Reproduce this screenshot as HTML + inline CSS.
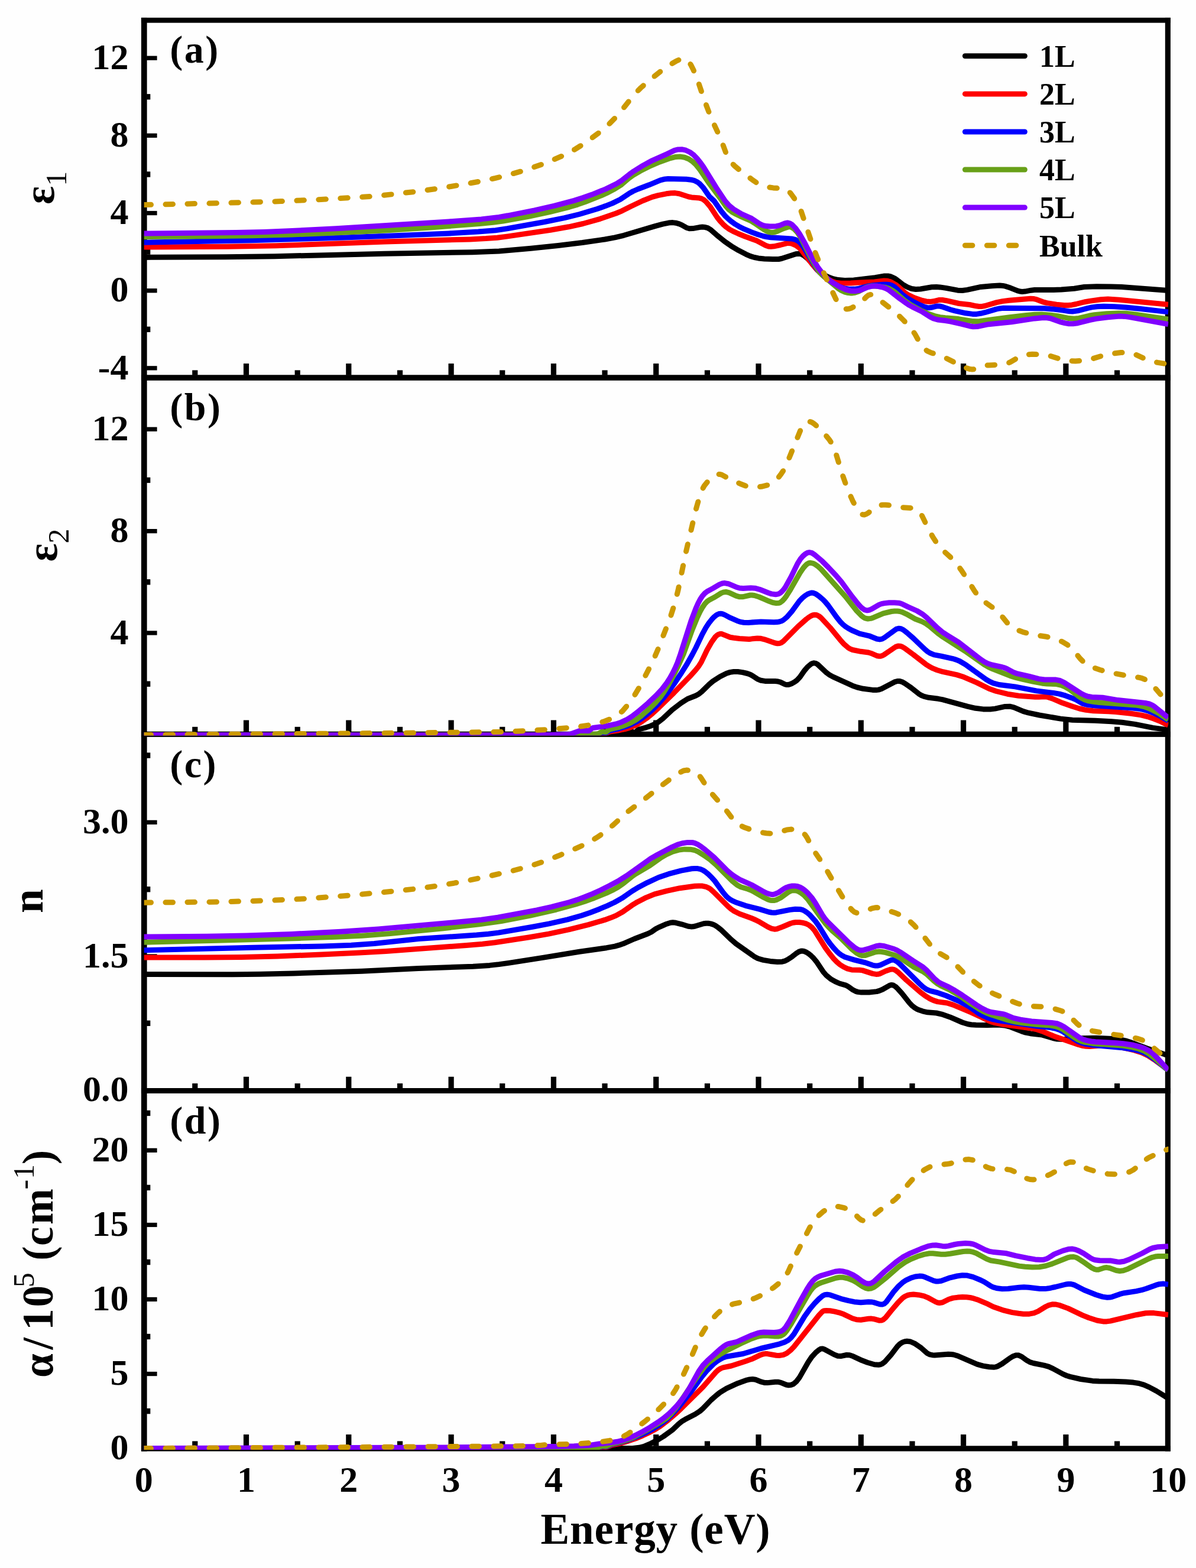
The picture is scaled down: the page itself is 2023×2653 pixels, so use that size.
<!DOCTYPE html><html><head><meta charset="utf-8"><style>html,body{margin:0;padding:0;background:#fff;}svg{display:block}</style></head><body>
<svg width="2023" height="2653" viewBox="0 0 2023 2653">
<rect width="100%" height="100%" fill="#fefefe"/>
<g fill="#000">
<rect x="238.9" y="29.9" width="9.7" height="2425.6"/>
<rect x="1970.8" y="29.9" width="9.1" height="2425.6"/>
<rect x="238.9" y="29.9" width="1741.0" height="8.7"/>
<rect x="238.9" y="634.3" width="1741.0" height="9.5"/>
<rect x="238.9" y="1237.7" width="1741.0" height="9.2"/>
<rect x="238.9" y="1841.0" width="1741.0" height="9.0"/>
<rect x="238.9" y="2446.3" width="1741.0" height="9.2"/>
<rect x="248.1" y="619.2" width="17.5" height="7.3"/>
<rect x="248.1" y="488.1" width="17.5" height="7.3"/>
<rect x="248.1" y="356.9" width="17.5" height="7.3"/>
<rect x="248.1" y="225.7" width="17.5" height="7.3"/>
<rect x="248.1" y="94.6" width="17.5" height="7.3"/>
<rect x="248.1" y="552.6" width="6.2" height="9.4"/>
<rect x="248.1" y="421.4" width="6.2" height="9.4"/>
<rect x="248.1" y="290.3" width="6.2" height="9.4"/>
<rect x="248.1" y="159.1" width="6.2" height="9.4"/>
<rect x="411.9" y="615.1" width="9.2" height="19.7"/>
<rect x="585.2" y="615.1" width="9.2" height="19.7"/>
<rect x="758.5" y="615.1" width="9.2" height="19.7"/>
<rect x="931.8" y="615.1" width="9.2" height="19.7"/>
<rect x="1105.1" y="615.1" width="9.2" height="19.7"/>
<rect x="1278.4" y="615.1" width="9.2" height="19.7"/>
<rect x="1451.7" y="615.1" width="9.2" height="19.7"/>
<rect x="1625.0" y="615.1" width="9.2" height="19.7"/>
<rect x="1798.3" y="615.1" width="9.2" height="19.7"/>
<rect x="325.2" y="626.4" width="9.2" height="8.4"/>
<rect x="498.6" y="626.4" width="9.2" height="8.4"/>
<rect x="671.9" y="626.4" width="9.2" height="8.4"/>
<rect x="845.1" y="626.4" width="9.2" height="8.4"/>
<rect x="1018.4" y="626.4" width="9.2" height="8.4"/>
<rect x="1191.8" y="626.4" width="9.2" height="8.4"/>
<rect x="1365.1" y="626.4" width="9.2" height="8.4"/>
<rect x="1538.4" y="626.4" width="9.2" height="8.4"/>
<rect x="1711.7" y="626.4" width="9.2" height="8.4"/>
<rect x="1885.0" y="626.4" width="9.2" height="8.4"/>
<rect x="248.1" y="1067.3" width="17.5" height="7.3"/>
<rect x="248.1" y="895.0" width="17.5" height="7.3"/>
<rect x="248.1" y="722.6" width="17.5" height="7.3"/>
<rect x="248.1" y="1152.5" width="6.2" height="9.4"/>
<rect x="248.1" y="980.1" width="6.2" height="9.4"/>
<rect x="248.1" y="807.7" width="6.2" height="9.4"/>
<rect x="411.9" y="1218.5" width="9.2" height="19.7"/>
<rect x="585.2" y="1218.5" width="9.2" height="19.7"/>
<rect x="758.5" y="1218.5" width="9.2" height="19.7"/>
<rect x="931.8" y="1218.5" width="9.2" height="19.7"/>
<rect x="1105.1" y="1218.5" width="9.2" height="19.7"/>
<rect x="1278.4" y="1218.5" width="9.2" height="19.7"/>
<rect x="1451.7" y="1218.5" width="9.2" height="19.7"/>
<rect x="1625.0" y="1218.5" width="9.2" height="19.7"/>
<rect x="1798.3" y="1218.5" width="9.2" height="19.7"/>
<rect x="325.2" y="1229.8" width="9.2" height="8.4"/>
<rect x="498.6" y="1229.8" width="9.2" height="8.4"/>
<rect x="671.9" y="1229.8" width="9.2" height="8.4"/>
<rect x="845.1" y="1229.8" width="9.2" height="8.4"/>
<rect x="1018.4" y="1229.8" width="9.2" height="8.4"/>
<rect x="1191.8" y="1229.8" width="9.2" height="8.4"/>
<rect x="1365.1" y="1229.8" width="9.2" height="8.4"/>
<rect x="1538.4" y="1229.8" width="9.2" height="8.4"/>
<rect x="1711.7" y="1229.8" width="9.2" height="8.4"/>
<rect x="1885.0" y="1229.8" width="9.2" height="8.4"/>
<rect x="248.1" y="1614.3" width="17.5" height="7.3"/>
<rect x="248.1" y="1387.7" width="17.5" height="7.3"/>
<rect x="248.1" y="1726.6" width="6.2" height="9.4"/>
<rect x="248.1" y="1500.0" width="6.2" height="9.4"/>
<rect x="248.1" y="1273.4" width="6.2" height="9.4"/>
<rect x="411.9" y="1821.8" width="9.2" height="19.7"/>
<rect x="585.2" y="1821.8" width="9.2" height="19.7"/>
<rect x="758.5" y="1821.8" width="9.2" height="19.7"/>
<rect x="931.8" y="1821.8" width="9.2" height="19.7"/>
<rect x="1105.1" y="1821.8" width="9.2" height="19.7"/>
<rect x="1278.4" y="1821.8" width="9.2" height="19.7"/>
<rect x="1451.7" y="1821.8" width="9.2" height="19.7"/>
<rect x="1625.0" y="1821.8" width="9.2" height="19.7"/>
<rect x="1798.3" y="1821.8" width="9.2" height="19.7"/>
<rect x="325.2" y="1833.1" width="9.2" height="8.4"/>
<rect x="498.6" y="1833.1" width="9.2" height="8.4"/>
<rect x="671.9" y="1833.1" width="9.2" height="8.4"/>
<rect x="845.1" y="1833.1" width="9.2" height="8.4"/>
<rect x="1018.4" y="1833.1" width="9.2" height="8.4"/>
<rect x="1191.8" y="1833.1" width="9.2" height="8.4"/>
<rect x="1365.1" y="1833.1" width="9.2" height="8.4"/>
<rect x="1538.4" y="1833.1" width="9.2" height="8.4"/>
<rect x="1711.7" y="1833.1" width="9.2" height="8.4"/>
<rect x="1885.0" y="1833.1" width="9.2" height="8.4"/>
<rect x="248.1" y="2320.9" width="17.5" height="7.3"/>
<rect x="248.1" y="2194.8" width="17.5" height="7.3"/>
<rect x="248.1" y="2068.8" width="17.5" height="7.3"/>
<rect x="248.1" y="1942.7" width="17.5" height="7.3"/>
<rect x="248.1" y="2382.9" width="6.2" height="9.4"/>
<rect x="248.1" y="2256.8" width="6.2" height="9.4"/>
<rect x="248.1" y="2130.8" width="6.2" height="9.4"/>
<rect x="248.1" y="2004.7" width="6.2" height="9.4"/>
<rect x="248.1" y="1878.7" width="6.2" height="9.4"/>
<rect x="411.9" y="2427.1" width="9.2" height="19.7"/>
<rect x="585.2" y="2427.1" width="9.2" height="19.7"/>
<rect x="758.5" y="2427.1" width="9.2" height="19.7"/>
<rect x="931.8" y="2427.1" width="9.2" height="19.7"/>
<rect x="1105.1" y="2427.1" width="9.2" height="19.7"/>
<rect x="1278.4" y="2427.1" width="9.2" height="19.7"/>
<rect x="1451.7" y="2427.1" width="9.2" height="19.7"/>
<rect x="1625.0" y="2427.1" width="9.2" height="19.7"/>
<rect x="1798.3" y="2427.1" width="9.2" height="19.7"/>
<rect x="325.2" y="2438.4" width="9.2" height="8.4"/>
<rect x="498.6" y="2438.4" width="9.2" height="8.4"/>
<rect x="671.9" y="2438.4" width="9.2" height="8.4"/>
<rect x="845.1" y="2438.4" width="9.2" height="8.4"/>
<rect x="1018.4" y="2438.4" width="9.2" height="8.4"/>
<rect x="1191.8" y="2438.4" width="9.2" height="8.4"/>
<rect x="1365.1" y="2438.4" width="9.2" height="8.4"/>
<rect x="1538.4" y="2438.4" width="9.2" height="8.4"/>
<rect x="1711.7" y="2438.4" width="9.2" height="8.4"/>
<rect x="1885.0" y="2438.4" width="9.2" height="8.4"/>
</g>
<clipPath id="clipa"><rect x="243.7" y="28.200000000000003" width="1732.6" height="612.8"/></clipPath>
<clipPath id="clipb"><rect x="243.7" y="633.0" width="1732.6" height="611.5"/></clipPath>
<clipPath id="clipc"><rect x="243.7" y="1236.5" width="1732.6" height="611.0"/></clipPath>
<clipPath id="clipd"><rect x="243.7" y="1839.5" width="1732.6" height="613.5"/></clipPath>
<g clip-path="url(#clipa)" fill="none" stroke-linejoin="round">
<path d="M243.0,435.4 L381.0,434.7 L464.0,433.7 L651.0,429.3 L799.0,426.7 L844.0,425.0 L898.0,420.2 L944.0,415.4 L985.0,410.5 L1023.0,405.0 L1040.0,401.9 L1055.0,398.3 L1108.0,382.6 L1121.0,379.1 L1131.0,377.1 L1138.0,376.6 L1143.0,377.2 L1149.0,378.9 L1153.0,380.6 L1161.0,385.2 L1166.0,386.7 L1172.0,386.6 L1183.0,384.6 L1188.0,384.1 L1193.0,384.6 L1197.0,385.7 L1202.0,388.7 L1212.0,397.4 L1226.0,408.7 L1239.0,417.7 L1249.0,423.6 L1262.0,430.3 L1269.0,433.4 L1276.0,435.5 L1283.0,436.9 L1293.0,437.9 L1307.0,438.5 L1317.0,438.5 L1322.0,437.5 L1346.0,429.8 L1351.0,429.2 L1355.0,429.8 L1360.0,432.5 L1366.0,437.4 L1373.0,444.9 L1382.0,456.3 L1388.0,461.5 L1395.0,465.8 L1403.0,469.6 L1410.0,472.0 L1418.0,473.6 L1429.0,474.4 L1444.0,473.9 L1480.0,469.6 L1496.0,467.0 L1502.0,467.0 L1507.0,468.0 L1513.0,470.8 L1517.0,473.5 L1527.0,481.3 L1535.0,485.9 L1542.0,488.5 L1549.0,489.5 L1557.0,489.0 L1576.0,485.8 L1584.0,485.4 L1590.0,485.9 L1600.0,487.4 L1620.0,491.2 L1628.0,491.5 L1636.0,490.4 L1659.0,485.4 L1678.0,483.7 L1691.0,483.1 L1696.0,483.4 L1701.0,484.4 L1709.0,487.1 L1721.0,491.9 L1725.0,493.0 L1729.0,493.4 L1734.0,493.1 L1744.0,491.2 L1750.0,490.5 L1782.0,490.5 L1795.0,490.0 L1817.0,488.3 L1834.0,485.5 L1855.0,484.8 L1879.0,484.9 L1897.0,485.5 L1976.0,491.4" stroke="#000000" stroke-width="9.0" stroke-linecap="butt"/>
<path d="M243.0,418.0 L384.0,417.2 L467.0,415.7 L651.0,409.0 L795.0,404.9 L822.0,403.6 L841.0,402.2 L859.0,399.9 L931.0,389.3 L962.0,383.8 L986.0,378.5 L1015.0,370.3 L1042.0,361.0 L1052.0,356.8 L1067.0,349.2 L1087.0,339.8 L1103.0,333.4 L1113.0,330.6 L1127.0,327.8 L1135.0,326.7 L1142.0,326.6 L1149.0,327.8 L1165.0,333.0 L1170.0,333.9 L1183.0,335.1 L1187.0,336.2 L1190.0,337.7 L1194.0,341.1 L1201.0,349.3 L1213.0,367.6 L1218.0,373.9 L1223.0,379.3 L1228.0,383.8 L1234.0,388.1 L1240.0,391.4 L1249.0,395.5 L1260.0,400.0 L1280.0,407.3 L1295.0,415.2 L1300.0,416.9 L1304.0,417.3 L1309.0,416.8 L1320.0,414.5 L1330.0,411.8 L1333.0,411.3 L1339.0,412.0 L1346.0,415.0 L1351.0,418.5 L1355.0,422.4 L1375.0,448.4 L1381.0,455.3 L1386.0,460.2 L1395.0,468.0 L1402.0,473.1 L1408.0,476.3 L1414.0,478.3 L1422.0,479.2 L1439.0,479.1 L1455.0,478.0 L1479.0,477.0 L1495.0,475.0 L1501.0,475.2 L1507.0,477.1 L1515.0,481.6 L1520.0,485.5 L1530.0,494.8 L1536.0,498.9 L1547.0,504.0 L1560.0,508.5 L1567.0,510.0 L1574.0,510.4 L1579.0,509.8 L1588.0,507.6 L1594.0,507.5 L1601.0,508.7 L1622.0,513.5 L1640.0,515.5 L1651.0,517.8 L1656.0,518.5 L1661.0,518.4 L1666.0,517.5 L1686.0,511.6 L1696.0,509.6 L1707.0,508.3 L1743.0,505.2 L1748.0,505.5 L1752.0,506.3 L1764.0,510.8 L1771.0,512.6 L1787.0,515.2 L1800.0,516.4 L1807.0,516.4 L1813.0,515.9 L1820.0,514.5 L1834.0,511.0 L1843.0,509.4 L1862.0,506.7 L1874.0,505.9 L1893.0,507.3 L1976.0,515.3" stroke="#ff0000" stroke-width="9.0" stroke-linecap="butt"/>
<path d="M243.0,410.3 L425.0,406.8 L568.0,402.5 L668.0,398.8 L759.0,394.9 L809.0,392.1 L838.0,389.7 L858.0,386.8 L921.0,375.5 L955.0,368.6 L980.0,362.5 L1010.0,353.5 L1024.0,348.6 L1036.0,343.9 L1049.0,337.5 L1064.0,327.4 L1071.0,323.5 L1079.0,320.0 L1098.0,312.8 L1117.0,304.8 L1123.0,303.3 L1130.0,302.6 L1161.0,303.3 L1169.0,304.2 L1175.0,305.7 L1180.0,308.3 L1184.0,311.4 L1190.0,318.1 L1200.0,332.6 L1208.0,340.1 L1220.0,357.4 L1226.0,364.7 L1231.0,369.6 L1237.0,374.7 L1243.0,379.0 L1250.0,383.2 L1259.0,387.7 L1272.0,393.1 L1282.0,396.8 L1291.0,399.5 L1297.0,400.8 L1304.0,401.7 L1339.0,403.9 L1345.0,405.3 L1350.0,407.9 L1354.0,411.4 L1359.0,417.7 L1379.0,451.0 L1383.0,456.6 L1387.0,461.2 L1397.0,470.3 L1409.0,479.0 L1419.0,484.6 L1428.0,487.9 L1436.0,489.2 L1445.0,489.1 L1453.0,488.1 L1467.0,484.3 L1476.0,482.8 L1494.0,481.3 L1500.0,481.2 L1505.0,481.7 L1509.0,483.0 L1513.0,485.4 L1517.0,488.9 L1526.0,498.2 L1534.0,504.2 L1548.0,512.1 L1557.0,516.5 L1563.0,519.0 L1568.0,520.4 L1572.0,520.7 L1575.0,520.3 L1584.0,518.1 L1590.0,518.1 L1595.0,519.4 L1608.0,524.0 L1615.0,525.9 L1633.0,529.8 L1645.0,531.4 L1652.0,531.4 L1659.0,530.3 L1666.0,528.7 L1685.0,523.1 L1691.0,521.9 L1697.0,521.3 L1766.0,521.8 L1780.0,522.9 L1798.0,525.1 L1809.0,526.8 L1814.0,527.0 L1823.0,525.8 L1840.0,521.3 L1847.0,519.9 L1856.0,518.8 L1867.0,518.3 L1885.0,518.7 L1904.0,520.1 L1929.0,522.5 L1976.0,527.9" stroke="#0000ff" stroke-width="9.0" stroke-linecap="butt"/>
<path d="M243.0,400.7 L356.0,399.8 L427.0,398.8 L493.0,397.0 L567.0,394.1 L651.0,389.9 L725.0,385.2 L811.0,378.4 L834.0,376.2 L851.0,374.0 L894.0,366.4 L930.0,358.7 L963.0,350.3 L977.0,346.1 L990.0,341.6 L1017.0,330.8 L1029.0,325.3 L1040.0,319.5 L1050.0,313.2 L1064.0,301.4 L1071.0,296.4 L1083.0,289.3 L1098.0,281.7 L1116.0,273.9 L1134.0,267.6 L1143.0,265.4 L1151.0,265.1 L1158.0,266.3 L1165.0,269.0 L1171.0,272.9 L1177.0,278.5 L1184.0,287.2 L1200.0,310.9 L1219.0,336.3 L1228.0,349.1 L1233.0,354.7 L1238.0,358.5 L1243.0,361.4 L1252.0,365.8 L1270.0,373.6 L1276.0,377.3 L1292.0,388.3 L1297.0,391.1 L1301.0,392.7 L1306.0,393.4 L1311.0,392.6 L1315.0,391.2 L1325.0,386.7 L1334.0,383.7 L1336.0,383.7 L1338.0,384.1 L1343.0,387.2 L1349.0,393.5 L1354.0,401.0 L1371.0,435.0 L1381.0,452.4 L1387.0,461.4 L1391.0,465.5 L1417.0,487.4 L1423.0,491.4 L1429.0,494.1 L1433.0,495.2 L1438.0,495.9 L1442.0,495.9 L1446.0,495.3 L1452.0,493.3 L1465.0,486.3 L1469.0,484.9 L1473.0,484.1 L1478.0,483.9 L1485.0,484.4 L1497.0,486.1 L1504.0,488.3 L1511.0,492.3 L1516.0,496.1 L1531.0,509.3 L1541.0,516.2 L1557.0,525.0 L1572.0,531.6 L1581.0,534.6 L1590.0,536.6 L1599.0,537.7 L1621.0,539.6 L1646.0,543.6 L1652.0,543.8 L1657.0,543.5 L1708.0,536.8 L1736.0,533.5 L1750.0,532.2 L1762.0,532.0 L1775.0,532.9 L1789.0,534.7 L1808.0,538.6 L1817.0,539.3 L1825.0,538.4 L1842.0,534.3 L1851.0,532.8 L1872.0,530.8 L1892.0,530.0 L1905.0,530.3 L1920.0,531.9 L1976.0,540.2" stroke="#68a018" stroke-width="9.0" stroke-linecap="butt"/>
<path d="M243.0,395.0 L399.0,393.6 L447.0,392.4 L494.0,390.6 L568.0,386.7 L759.0,375.0 L814.0,370.9 L844.0,367.4 L859.0,364.8 L904.0,355.8 L938.0,348.2 L971.0,339.4 L986.0,334.6 L1001.0,329.3 L1025.0,319.6 L1043.0,310.8 L1052.0,305.1 L1065.0,294.7 L1072.0,289.7 L1087.0,280.4 L1101.0,272.7 L1128.0,260.6 L1141.0,254.4 L1147.0,252.9 L1154.0,252.8 L1160.0,254.2 L1167.0,257.5 L1173.0,261.9 L1179.0,268.1 L1185.0,275.6 L1190.0,282.7 L1213.0,319.8 L1226.0,339.3 L1233.0,347.5 L1241.0,354.0 L1254.0,361.9 L1271.0,369.4 L1285.0,378.7 L1288.0,380.3 L1292.0,381.7 L1297.0,382.6 L1302.0,383.0 L1313.0,382.7 L1319.0,381.3 L1328.0,377.6 L1332.0,377.0 L1336.0,377.9 L1340.0,380.4 L1346.0,386.7 L1353.0,396.7 L1362.0,412.7 L1376.0,440.5 L1383.0,451.6 L1391.0,462.4 L1399.0,471.0 L1407.0,477.3 L1420.0,485.1 L1431.0,490.1 L1439.0,492.2 L1448.0,492.4 L1455.0,491.2 L1466.0,486.5 L1475.0,484.2 L1479.0,483.9 L1483.0,484.0 L1493.0,486.0 L1499.0,488.3 L1504.0,491.2 L1520.0,503.8 L1537.0,515.8 L1543.0,519.2 L1559.0,527.0 L1573.0,535.9 L1579.0,539.0 L1586.0,541.0 L1599.0,542.5 L1607.0,543.9 L1627.0,548.3 L1640.0,551.7 L1646.0,552.7 L1653.0,552.6 L1672.0,548.7 L1711.0,544.8 L1750.0,538.9 L1765.0,537.5 L1771.0,537.7 L1777.0,538.8 L1793.0,544.6 L1801.0,546.6 L1808.0,547.7 L1815.0,547.8 L1823.0,546.7 L1843.0,541.6 L1854.0,539.4 L1874.0,536.8 L1894.0,535.0 L1902.0,535.4 L1911.0,536.6 L1976.0,548.6" stroke="#8000ff" stroke-width="9.0" stroke-linecap="butt"/>
<path d="M243.0,346.6 L385.0,343.3 L475.0,340.6 L551.0,337.1 L629.0,332.3 L649.0,330.4 L708.0,323.6 L743.0,318.7 L788.0,311.3 L814.0,306.5 L838.0,301.4 L862.0,295.4 L881.0,290.0 L899.0,284.2 L917.0,277.9 L934.0,271.2 L949.0,264.7 L962.0,258.4 L973.0,252.4 L985.0,244.8 L998.0,235.8 L1012.0,225.3 L1023.0,216.4 L1032.0,208.2 L1041.0,198.9 L1051.0,187.5 L1069.0,164.5 L1075.0,157.5 L1084.0,148.5 L1096.0,137.9 L1118.0,120.2 L1127.0,113.7 L1135.0,108.5 L1143.0,103.8 L1149.0,100.9 L1154.0,99.4 L1158.0,99.2 L1160.0,99.8 L1162.0,101.1 L1165.0,104.2 L1169.0,110.4 L1173.0,118.5 L1180.0,135.6 L1192.0,171.1 L1200.0,192.1 L1207.0,208.6 L1219.0,234.6 L1229.0,261.6 L1232.0,267.8 L1236.0,273.8 L1242.0,280.2 L1251.0,287.8 L1273.0,304.5 L1279.0,308.6 L1285.0,312.0 L1292.0,314.9 L1299.0,316.6 L1308.0,317.9 L1327.0,319.3 L1329.0,319.7 L1331.0,320.6 L1334.0,323.3 L1338.0,328.0 L1347.0,340.6 L1351.0,347.8 L1355.0,357.0 L1376.0,419.7 L1382.0,435.0 L1393.0,460.9 L1403.0,483.2 L1414.0,506.2 L1417.0,511.4 L1420.0,515.7 L1425.0,520.5 L1428.0,522.1 L1432.0,522.9 L1436.0,522.5 L1440.0,521.2 L1447.0,517.6 L1455.0,512.3 L1459.0,508.8 L1466.0,501.7 L1469.0,499.4 L1472.0,498.4 L1474.0,498.5 L1476.0,499.1 L1480.0,501.5 L1509.0,524.0 L1519.0,532.7 L1529.0,542.6 L1538.0,552.4 L1544.0,559.8 L1548.0,565.9 L1558.0,584.0 L1561.0,587.9 L1565.0,591.6 L1569.0,594.1 L1574.0,596.4 L1590.0,601.7 L1597.0,604.4 L1627.0,619.4 L1636.0,623.2 L1641.0,624.6 L1645.0,624.9 L1649.0,624.4 L1660.0,619.9 L1666.0,618.5 L1672.0,617.9 L1692.0,617.0 L1701.0,615.6 L1705.0,614.4 L1709.0,612.7 L1722.0,604.9 L1728.0,602.1 L1736.0,600.1 L1746.0,599.3 L1758.0,599.7 L1770.0,601.0 L1778.0,602.7 L1794.0,607.7 L1801.0,609.5 L1809.0,610.6 L1819.0,610.9 L1830.0,610.2 L1841.0,608.6 L1848.0,606.9 L1867.0,601.2 L1882.0,598.3 L1896.0,596.5 L1907.0,596.4 L1913.0,597.2 L1919.0,599.0 L1938.0,607.8 L1946.0,610.7 L1958.0,613.4 L1976.0,616.3" stroke="#cc9900" stroke-width="9.0" stroke-dasharray="12.5 24.5" stroke-linecap="round"/>
</g>
<g clip-path="url(#clipb)" fill="none" stroke-linejoin="round">
<path d="M243.0,1243.4 L735.0,1243.9 L996.0,1243.4 L1039.0,1242.9 L1044.0,1242.2 L1061.0,1238.4 L1069.0,1238.0 L1073.0,1239.3 L1074.0,1239.3 L1076.0,1238.0 L1079.0,1235.1 L1081.0,1234.0 L1093.0,1230.8 L1100.0,1228.5 L1107.0,1225.5 L1113.0,1222.1 L1121.0,1216.0 L1137.0,1201.0 L1152.0,1189.5 L1163.0,1182.5 L1177.0,1177.0 L1182.0,1174.3 L1187.0,1170.3 L1200.0,1157.5 L1206.0,1152.5 L1218.0,1144.7 L1229.0,1139.3 L1235.0,1137.4 L1241.0,1136.5 L1248.0,1136.5 L1256.0,1137.6 L1264.0,1139.5 L1269.0,1141.3 L1273.0,1143.5 L1281.0,1148.8 L1287.0,1151.3 L1294.0,1152.4 L1311.0,1152.6 L1316.0,1153.1 L1320.0,1154.1 L1328.0,1158.0 L1330.0,1158.5 L1333.0,1158.5 L1336.0,1157.8 L1340.0,1156.2 L1344.0,1153.9 L1348.0,1151.0 L1353.0,1145.6 L1361.0,1134.2 L1366.0,1128.4 L1372.0,1123.4 L1375.0,1122.1 L1377.0,1121.8 L1380.0,1122.4 L1383.0,1124.1 L1398.0,1138.2 L1403.0,1141.8 L1409.0,1145.2 L1442.0,1160.2 L1450.0,1163.0 L1460.0,1165.3 L1476.0,1167.4 L1482.0,1167.6 L1486.0,1167.1 L1491.0,1165.5 L1513.0,1153.9 L1518.0,1152.5 L1522.0,1152.6 L1526.0,1153.8 L1531.0,1156.6 L1541.0,1163.5 L1554.0,1173.8 L1559.0,1176.8 L1563.0,1178.4 L1571.0,1180.3 L1587.0,1182.3 L1594.0,1183.6 L1637.0,1195.3 L1650.0,1198.3 L1663.0,1199.9 L1675.0,1200.0 L1683.0,1199.1 L1700.0,1195.4 L1708.0,1195.2 L1715.0,1196.8 L1731.0,1203.6 L1740.0,1206.2 L1758.0,1210.0 L1794.0,1216.1 L1814.0,1218.3 L1852.0,1219.3 L1880.0,1220.8 L1898.0,1222.3 L1920.0,1225.4 L1950.0,1231.4 L1976.0,1234.9" stroke="#000000" stroke-width="9.0" stroke-linecap="butt"/>
<path d="M243.0,1243.4 L702.0,1243.7 L947.0,1243.4 L1008.0,1242.7 L1012.0,1242.3 L1018.0,1240.2 L1025.0,1240.5 L1031.0,1238.0 L1047.0,1235.7 L1057.0,1233.6 L1064.0,1231.6 L1071.0,1229.0 L1078.0,1225.6 L1086.0,1220.7 L1095.0,1214.3 L1103.0,1207.8 L1114.0,1197.6 L1140.0,1172.2 L1167.0,1144.4 L1177.0,1133.3 L1182.0,1126.9 L1186.0,1120.6 L1196.0,1099.7 L1204.0,1085.8 L1210.0,1077.5 L1213.0,1074.7 L1215.0,1073.4 L1218.0,1072.4 L1221.0,1072.6 L1235.0,1078.2 L1241.0,1079.3 L1251.0,1080.5 L1267.0,1081.4 L1281.0,1080.0 L1287.0,1080.3 L1293.0,1081.8 L1311.0,1088.0 L1315.0,1088.7 L1319.0,1088.4 L1322.0,1087.2 L1325.0,1085.0 L1350.0,1059.8 L1364.0,1047.5 L1368.0,1044.5 L1372.0,1042.0 L1375.0,1040.8 L1378.0,1040.3 L1381.0,1040.6 L1383.0,1041.3 L1386.0,1043.0 L1389.0,1045.5 L1404.0,1061.7 L1421.0,1082.4 L1428.0,1090.2 L1435.0,1096.2 L1438.0,1097.9 L1442.0,1099.5 L1456.0,1102.3 L1469.0,1104.0 L1473.0,1105.2 L1484.0,1109.8 L1487.0,1110.3 L1489.0,1110.3 L1492.0,1109.5 L1495.0,1108.0 L1515.0,1094.4 L1519.0,1093.1 L1523.0,1093.2 L1526.0,1094.3 L1530.0,1096.6 L1545.0,1107.6 L1566.0,1123.9 L1572.0,1127.8 L1578.0,1130.9 L1585.0,1133.7 L1595.0,1136.7 L1618.0,1141.6 L1628.0,1144.7 L1652.0,1154.9 L1673.0,1165.2 L1685.0,1169.5 L1704.0,1174.2 L1723.0,1177.3 L1751.0,1179.2 L1757.0,1179.3 L1767.0,1178.7 L1772.0,1179.4 L1779.0,1181.6 L1797.0,1189.3 L1814.0,1195.3 L1826.0,1199.0 L1837.0,1201.4 L1849.0,1202.7 L1875.0,1203.7 L1887.0,1204.6 L1913.0,1207.3 L1930.0,1209.9 L1941.0,1212.5 L1952.0,1216.2 L1961.0,1219.8 L1973.0,1225.7 L1976.0,1226.8" stroke="#ff0000" stroke-width="9.0" stroke-linecap="butt"/>
<path d="M243.0,1243.4 L702.0,1243.8 L947.0,1243.4 L1008.0,1242.6 L1012.0,1242.1 L1018.0,1239.6 L1025.0,1239.8 L1031.0,1236.4 L1047.0,1232.8 L1060.0,1228.7 L1069.0,1225.1 L1076.0,1221.6 L1085.0,1215.9 L1095.0,1208.2 L1104.0,1200.3 L1113.0,1191.3 L1122.0,1181.2 L1130.0,1171.1 L1140.0,1157.4 L1151.0,1141.1 L1161.0,1125.2 L1171.0,1107.5 L1177.0,1096.0 L1188.0,1072.9 L1194.0,1061.9 L1199.0,1054.3 L1204.0,1047.9 L1208.0,1043.7 L1212.0,1040.5 L1215.0,1039.0 L1217.0,1038.4 L1219.0,1038.3 L1222.0,1038.8 L1226.0,1040.4 L1235.0,1045.2 L1247.0,1050.4 L1253.0,1052.4 L1258.0,1053.3 L1266.0,1053.4 L1287.0,1051.9 L1309.0,1052.8 L1314.0,1052.6 L1318.0,1052.0 L1322.0,1050.7 L1325.0,1049.1 L1331.0,1044.1 L1340.0,1033.7 L1352.0,1017.2 L1358.0,1010.9 L1362.0,1007.7 L1366.0,1005.2 L1370.0,1003.6 L1373.0,1003.0 L1376.0,1003.3 L1380.0,1005.0 L1385.0,1008.5 L1392.0,1014.4 L1396.0,1018.5 L1401.0,1024.5 L1415.0,1044.2 L1422.0,1052.8 L1426.0,1056.7 L1430.0,1059.9 L1435.0,1063.2 L1441.0,1066.5 L1454.0,1072.1 L1470.0,1075.8 L1483.0,1081.0 L1488.0,1081.9 L1492.0,1081.1 L1496.0,1078.9 L1516.0,1064.4 L1520.0,1063.2 L1524.0,1063.8 L1528.0,1065.8 L1534.0,1070.4 L1545.0,1080.0 L1564.0,1098.3 L1569.0,1102.4 L1573.0,1105.0 L1580.0,1107.9 L1592.0,1110.1 L1611.0,1114.3 L1617.0,1116.1 L1623.0,1118.5 L1633.0,1124.4 L1668.0,1149.6 L1674.0,1153.2 L1680.0,1155.9 L1690.0,1158.5 L1717.0,1161.9 L1753.0,1168.9 L1782.0,1172.4 L1792.0,1174.1 L1802.0,1176.9 L1813.0,1180.9 L1820.0,1183.9 L1831.0,1190.3 L1839.0,1192.5 L1853.0,1194.0 L1916.0,1198.1 L1925.0,1199.0 L1933.0,1200.4 L1943.0,1203.2 L1954.0,1207.6 L1962.0,1211.4 L1973.0,1218.0 L1976.0,1219.4" stroke="#0000ff" stroke-width="9.0" stroke-linecap="butt"/>
<path d="M243.0,1243.4 L702.0,1243.9 L947.0,1243.4 L1008.0,1242.3 L1012.0,1241.5 L1018.0,1238.1 L1020.0,1237.8 L1023.0,1238.6 L1025.0,1238.5 L1031.0,1234.2 L1046.0,1230.6 L1056.0,1227.4 L1066.0,1223.3 L1075.0,1218.3 L1085.0,1211.0 L1099.0,1198.6 L1109.0,1188.7 L1117.0,1179.3 L1123.0,1170.9 L1130.0,1159.7 L1137.0,1147.1 L1145.0,1131.3 L1156.0,1106.9 L1171.0,1065.2 L1179.0,1045.7 L1184.0,1035.1 L1188.0,1027.9 L1192.0,1022.0 L1196.0,1017.7 L1200.0,1014.9 L1209.0,1010.3 L1220.0,1003.4 L1224.0,1001.9 L1228.0,1001.5 L1233.0,1002.6 L1245.0,1008.1 L1251.0,1009.8 L1256.0,1009.8 L1269.0,1007.0 L1272.0,1007.0 L1276.0,1007.5 L1284.0,1010.0 L1301.0,1017.3 L1307.0,1019.5 L1313.0,1020.6 L1318.0,1020.2 L1320.0,1019.3 L1323.0,1017.0 L1326.0,1013.9 L1330.0,1008.7 L1337.0,997.5 L1353.0,969.4 L1359.0,960.7 L1362.0,957.2 L1365.0,954.4 L1368.0,952.8 L1371.0,952.3 L1375.0,953.1 L1379.0,955.1 L1384.0,958.7 L1389.0,963.3 L1430.0,1009.2 L1449.0,1033.4 L1457.0,1041.7 L1460.0,1044.1 L1463.0,1045.8 L1468.0,1047.0 L1473.0,1046.4 L1478.0,1044.7 L1494.0,1037.8 L1508.0,1034.5 L1513.0,1034.0 L1518.0,1034.0 L1522.0,1034.5 L1526.0,1035.6 L1533.0,1038.8 L1548.0,1047.2 L1560.0,1051.9 L1566.0,1055.1 L1572.0,1059.4 L1588.0,1072.7 L1595.0,1077.8 L1632.0,1101.4 L1666.0,1125.2 L1672.0,1128.7 L1679.0,1131.9 L1709.0,1143.6 L1718.0,1146.4 L1730.0,1149.4 L1748.0,1153.4 L1763.0,1156.2 L1771.0,1157.0 L1787.0,1157.6 L1795.0,1159.3 L1801.0,1161.8 L1809.0,1166.4 L1824.0,1177.7 L1829.0,1181.0 L1835.0,1184.0 L1841.0,1185.9 L1849.0,1187.4 L1859.0,1188.5 L1920.0,1192.9 L1928.0,1194.0 L1935.0,1195.6 L1944.0,1198.8 L1956.0,1204.7 L1962.0,1208.2 L1973.0,1215.8 L1976.0,1217.4" stroke="#68a018" stroke-width="9.0" stroke-linecap="butt"/>
<path d="M243.0,1243.4 L782.0,1244.1 L871.0,1243.8 L926.0,1243.4 L958.0,1242.7 L963.0,1242.5 L966.0,1241.8 L981.0,1236.1 L995.0,1236.6 L997.0,1235.9 L1001.0,1232.4 L1003.0,1231.5 L1026.0,1228.4 L1042.0,1224.9 L1051.0,1221.9 L1060.0,1217.7 L1069.0,1212.0 L1079.0,1204.4 L1096.0,1189.8 L1110.0,1176.6 L1120.0,1165.8 L1128.0,1155.2 L1133.0,1147.4 L1138.0,1138.5 L1142.0,1130.3 L1146.0,1121.0 L1151.0,1106.7 L1169.0,1050.4 L1177.0,1029.3 L1181.0,1020.4 L1185.0,1012.9 L1188.0,1008.4 L1192.0,1003.9 L1197.0,1000.2 L1206.0,995.4 L1217.0,988.9 L1222.0,987.0 L1226.0,986.6 L1232.0,987.7 L1245.0,993.2 L1251.0,995.0 L1257.0,995.5 L1270.0,994.8 L1277.0,995.2 L1285.0,997.3 L1300.0,1003.3 L1305.0,1004.9 L1312.0,1005.8 L1317.0,1004.8 L1320.0,1003.1 L1323.0,1000.4 L1326.0,996.9 L1329.0,992.4 L1338.0,976.3 L1349.0,953.6 L1354.0,945.7 L1358.0,941.0 L1362.0,937.5 L1366.0,935.2 L1369.0,934.6 L1373.0,935.4 L1378.0,938.6 L1391.0,949.7 L1401.0,959.7 L1414.0,973.6 L1423.0,984.1 L1441.0,1008.9 L1452.0,1022.6 L1457.0,1028.0 L1462.0,1031.6 L1466.0,1032.8 L1468.0,1032.7 L1471.0,1032.0 L1475.0,1030.2 L1487.0,1023.1 L1491.0,1021.6 L1496.0,1020.6 L1504.0,1019.7 L1513.0,1019.7 L1520.0,1020.2 L1525.0,1021.5 L1536.0,1026.9 L1551.0,1033.5 L1560.0,1038.8 L1567.0,1044.4 L1586.0,1062.7 L1594.0,1069.4 L1601.0,1074.1 L1621.0,1086.4 L1658.0,1115.1 L1665.0,1119.7 L1671.0,1122.7 L1678.0,1125.0 L1693.0,1128.1 L1698.0,1129.5 L1703.0,1131.5 L1714.0,1137.4 L1719.0,1139.3 L1741.0,1144.3 L1757.0,1148.6 L1767.0,1150.0 L1786.0,1150.1 L1793.0,1151.5 L1800.0,1154.9 L1829.0,1173.6 L1835.0,1176.6 L1840.0,1178.3 L1847.0,1179.4 L1865.0,1180.3 L1891.0,1184.6 L1928.0,1188.4 L1939.0,1189.8 L1944.0,1191.0 L1948.0,1192.6 L1952.0,1194.9 L1972.0,1211.1 L1976.0,1213.6" stroke="#8000ff" stroke-width="9.0" stroke-linecap="butt"/>
<path d="M243.0,1243.4 L683.0,1240.2 L861.0,1238.2 L874.0,1237.2 L926.0,1234.4 L964.0,1231.2 L979.0,1229.6 L998.0,1226.6 L1011.0,1223.9 L1023.0,1220.2 L1035.0,1215.4 L1040.0,1212.9 L1045.0,1209.7 L1053.0,1203.0 L1062.0,1192.5 L1073.0,1176.9 L1082.0,1161.9 L1098.0,1131.0 L1107.0,1112.5 L1113.0,1098.4 L1133.0,1047.0 L1141.0,1022.1 L1147.0,998.6 L1160.0,935.2 L1177.0,862.5 L1184.0,837.7 L1187.0,829.8 L1191.0,822.3 L1196.0,816.0 L1205.0,807.5 L1210.0,803.9 L1213.0,802.7 L1215.0,802.4 L1218.0,802.5 L1221.0,803.4 L1235.0,810.9 L1252.0,818.5 L1261.0,822.0 L1268.0,823.7 L1277.0,824.3 L1288.0,823.3 L1298.0,820.9 L1306.0,817.3 L1311.0,813.7 L1316.0,808.7 L1321.0,802.3 L1326.0,794.8 L1330.0,786.7 L1355.0,725.4 L1358.0,720.1 L1361.0,716.5 L1364.0,714.3 L1368.0,713.3 L1371.0,713.7 L1374.0,715.0 L1378.0,717.8 L1382.0,721.4 L1391.0,730.4 L1398.0,738.1 L1403.0,744.3 L1407.0,750.3 L1410.0,756.1 L1412.0,761.1 L1425.0,803.4 L1431.0,820.3 L1437.0,835.5 L1442.0,846.8 L1447.0,856.2 L1452.0,864.3 L1456.0,868.8 L1458.0,870.1 L1460.0,870.8 L1462.0,870.9 L1465.0,870.0 L1469.0,867.6 L1478.0,860.4 L1483.0,857.1 L1488.0,855.0 L1493.0,854.2 L1498.0,854.2 L1504.0,854.8 L1526.0,858.6 L1543.0,859.6 L1547.0,860.6 L1551.0,862.4 L1555.0,865.9 L1559.0,871.5 L1572.0,898.2 L1579.0,910.4 L1585.0,919.6 L1593.0,929.4 L1611.0,945.8 L1619.0,954.9 L1627.0,966.2 L1638.0,983.0 L1648.0,999.3 L1654.0,1007.7 L1658.0,1012.1 L1663.0,1016.6 L1681.0,1029.3 L1687.0,1034.2 L1693.0,1040.6 L1704.0,1054.2 L1710.0,1060.0 L1714.0,1062.7 L1718.0,1064.8 L1730.0,1069.3 L1749.0,1074.2 L1770.0,1077.3 L1777.0,1078.7 L1788.0,1082.1 L1797.0,1085.9 L1805.0,1090.6 L1812.0,1096.2 L1817.0,1101.7 L1827.0,1114.3 L1833.0,1120.3 L1840.0,1125.1 L1849.0,1129.4 L1861.0,1133.5 L1876.0,1137.7 L1909.0,1143.8 L1927.0,1146.4 L1932.0,1147.7 L1937.0,1149.7 L1944.0,1154.2 L1951.0,1160.8 L1966.0,1178.4 L1974.0,1188.6 L1976.0,1190.5" stroke="#cc9900" stroke-width="9.0" stroke-dasharray="12.5 24.5" stroke-linecap="round"/>
</g>
<g clip-path="url(#clipc)" fill="none" stroke-linejoin="round">
<path d="M243.0,1648.6 L393.0,1648.8 L440.0,1648.3 L496.0,1647.0 L612.0,1643.3 L708.0,1638.4 L800.0,1635.2 L828.0,1633.4 L844.0,1631.6 L862.0,1629.1 L918.0,1620.4 L980.0,1610.2 L1026.0,1603.7 L1040.0,1601.1 L1047.0,1599.2 L1054.0,1596.8 L1073.0,1588.5 L1096.0,1579.7 L1102.0,1576.7 L1109.0,1571.8 L1114.0,1569.1 L1126.0,1563.8 L1134.0,1561.3 L1138.0,1560.8 L1143.0,1561.3 L1153.0,1563.8 L1164.0,1567.2 L1169.0,1567.9 L1172.0,1567.8 L1176.0,1567.0 L1190.0,1562.8 L1194.0,1562.3 L1198.0,1562.3 L1202.0,1562.9 L1206.0,1564.1 L1210.0,1566.1 L1214.0,1568.7 L1220.0,1573.6 L1237.0,1589.9 L1245.0,1596.7 L1276.0,1618.6 L1282.0,1621.8 L1291.0,1624.4 L1303.0,1626.4 L1315.0,1627.5 L1323.0,1627.2 L1327.0,1626.2 L1332.0,1623.7 L1339.0,1619.2 L1347.0,1613.0 L1351.0,1610.4 L1355.0,1609.1 L1357.0,1609.0 L1360.0,1609.5 L1363.0,1610.7 L1367.0,1613.1 L1372.0,1617.1 L1376.0,1621.0 L1381.0,1627.1 L1393.0,1644.9 L1398.0,1650.6 L1405.0,1656.3 L1413.0,1660.9 L1420.0,1664.0 L1431.0,1667.1 L1435.0,1669.4 L1443.0,1675.1 L1447.0,1677.1 L1451.0,1678.4 L1457.0,1679.1 L1470.0,1679.0 L1483.0,1677.6 L1488.0,1676.1 L1493.0,1674.0 L1505.0,1667.2 L1508.0,1666.5 L1511.0,1667.0 L1515.0,1669.5 L1519.0,1673.4 L1526.0,1681.3 L1538.0,1696.5 L1543.0,1701.8 L1547.0,1704.9 L1551.0,1707.3 L1555.0,1709.1 L1561.0,1711.1 L1569.0,1712.8 L1584.0,1714.0 L1593.0,1716.1 L1607.0,1720.9 L1628.0,1730.0 L1637.0,1732.7 L1643.0,1733.7 L1651.0,1734.2 L1670.0,1734.5 L1689.0,1734.1 L1699.0,1734.9 L1709.0,1737.5 L1728.0,1744.9 L1735.0,1747.1 L1743.0,1748.7 L1763.0,1751.1 L1781.0,1756.5 L1788.0,1758.0 L1799.0,1758.5 L1826.0,1756.7 L1854.0,1756.3 L1881.0,1757.5 L1897.0,1759.4 L1904.0,1760.9 L1911.0,1763.0 L1940.0,1773.8 L1971.0,1784.3 L1976.0,1785.7" stroke="#000000" stroke-width="9.0" stroke-linecap="butt"/>
<path d="M243.0,1620.1 L346.0,1620.0 L408.0,1619.4 L469.0,1617.9 L544.0,1615.0 L608.0,1612.1 L653.0,1609.4 L789.0,1599.5 L816.0,1597.2 L837.0,1594.8 L894.0,1586.0 L928.0,1580.1 L962.0,1572.9 L995.0,1564.6 L1023.0,1556.4 L1033.0,1552.8 L1042.0,1549.1 L1053.0,1543.0 L1069.0,1531.7 L1078.0,1526.2 L1093.0,1518.6 L1107.0,1512.9 L1128.0,1507.4 L1150.0,1502.7 L1175.0,1499.3 L1182.0,1498.9 L1188.0,1499.1 L1195.0,1500.7 L1199.0,1502.6 L1202.0,1504.6 L1207.0,1509.1 L1232.0,1534.1 L1237.0,1538.4 L1242.0,1541.8 L1251.0,1546.2 L1271.0,1553.5 L1278.0,1556.5 L1285.0,1560.1 L1299.0,1568.3 L1305.0,1571.1 L1310.0,1572.2 L1314.0,1571.7 L1324.0,1568.0 L1337.0,1562.5 L1341.0,1561.3 L1346.0,1560.5 L1352.0,1560.5 L1357.0,1561.1 L1363.0,1562.7 L1368.0,1565.0 L1373.0,1568.8 L1378.0,1574.6 L1396.0,1603.5 L1403.0,1613.2 L1410.0,1621.8 L1416.0,1628.1 L1421.0,1632.2 L1427.0,1636.0 L1433.0,1638.8 L1441.0,1641.0 L1454.0,1641.3 L1459.0,1641.9 L1476.0,1647.4 L1482.0,1648.4 L1485.0,1648.3 L1488.0,1647.6 L1498.0,1643.0 L1506.0,1640.2 L1509.0,1639.9 L1512.0,1640.4 L1515.0,1641.8 L1519.0,1644.8 L1533.0,1658.2 L1557.0,1678.9 L1565.0,1684.9 L1573.0,1689.8 L1579.0,1692.6 L1586.0,1694.9 L1602.0,1697.0 L1612.0,1700.1 L1643.0,1713.1 L1657.0,1719.6 L1670.0,1726.1 L1676.0,1728.6 L1683.0,1730.7 L1693.0,1732.7 L1743.0,1739.7 L1754.0,1741.9 L1763.0,1744.9 L1785.0,1754.1 L1824.0,1767.4 L1832.0,1769.6 L1837.0,1770.3 L1843.0,1770.5 L1866.0,1768.7 L1877.0,1768.9 L1895.0,1771.5 L1919.0,1777.1 L1931.0,1781.0 L1942.0,1786.3 L1954.0,1794.1 L1976.0,1810.1" stroke="#ff0000" stroke-width="9.0" stroke-linecap="butt"/>
<path d="M243.0,1607.8 L427.0,1603.2 L546.0,1600.9 L594.0,1599.3 L633.0,1596.5 L708.0,1588.5 L806.0,1582.1 L826.0,1580.3 L843.0,1578.1 L902.0,1568.0 L929.0,1562.9 L960.0,1555.8 L984.0,1549.0 L998.0,1544.2 L1013.0,1538.5 L1027.0,1532.6 L1039.0,1527.0 L1052.0,1519.7 L1069.0,1507.9 L1079.0,1501.7 L1095.0,1493.3 L1114.0,1484.5 L1131.0,1478.7 L1152.0,1473.1 L1170.0,1469.8 L1175.0,1469.4 L1180.0,1469.6 L1185.0,1470.7 L1189.0,1472.4 L1193.0,1474.9 L1198.0,1479.0 L1204.0,1484.9 L1209.0,1490.5 L1223.0,1509.9 L1228.0,1515.9 L1231.0,1518.8 L1235.0,1521.8 L1239.0,1524.2 L1244.0,1526.4 L1261.0,1532.3 L1285.0,1538.4 L1300.0,1543.0 L1305.0,1544.0 L1309.0,1544.3 L1313.0,1543.9 L1336.0,1539.4 L1345.0,1538.3 L1354.0,1538.6 L1358.0,1539.7 L1361.0,1541.2 L1365.0,1543.9 L1370.0,1548.2 L1379.0,1558.2 L1385.0,1566.7 L1399.0,1589.6 L1404.0,1596.5 L1410.0,1603.9 L1415.0,1609.3 L1420.0,1613.8 L1424.0,1616.6 L1429.0,1619.2 L1445.0,1624.1 L1463.0,1628.6 L1476.0,1633.1 L1481.0,1634.1 L1485.0,1633.9 L1489.0,1632.8 L1507.0,1624.5 L1510.0,1624.0 L1513.0,1624.5 L1517.0,1626.7 L1521.0,1630.0 L1555.0,1664.0 L1561.0,1669.5 L1566.0,1673.2 L1569.0,1674.8 L1573.0,1676.4 L1584.0,1679.1 L1600.0,1684.5 L1623.0,1694.4 L1638.0,1702.2 L1656.0,1714.9 L1663.0,1718.6 L1670.0,1721.7 L1680.0,1724.9 L1691.0,1727.1 L1754.0,1736.3 L1777.0,1738.6 L1786.0,1740.4 L1792.0,1742.5 L1798.0,1745.5 L1816.0,1757.6 L1823.0,1761.8 L1829.0,1764.4 L1836.0,1766.3 L1846.0,1767.9 L1896.0,1772.4 L1917.0,1775.7 L1927.0,1778.1 L1936.0,1781.4 L1945.0,1786.5 L1956.0,1794.5 L1972.0,1807.7 L1976.0,1810.2" stroke="#0000ff" stroke-width="9.0" stroke-linecap="butt"/>
<path d="M243.0,1594.2 L367.0,1591.3 L506.0,1587.4 L568.0,1585.3 L612.0,1583.2 L660.0,1579.6 L750.0,1570.7 L811.0,1563.8 L848.0,1558.5 L897.0,1549.1 L941.0,1539.0 L974.0,1530.0 L989.0,1525.2 L1005.0,1519.4 L1028.0,1510.0 L1038.0,1505.1 L1045.0,1501.2 L1054.0,1495.1 L1068.0,1483.7 L1074.0,1479.3 L1099.0,1464.7 L1118.0,1451.0 L1127.0,1445.8 L1138.0,1441.0 L1148.0,1438.1 L1158.0,1436.9 L1169.0,1437.3 L1175.0,1438.5 L1181.0,1441.2 L1191.0,1447.3 L1201.0,1454.4 L1211.0,1463.1 L1239.0,1491.1 L1247.0,1497.6 L1253.0,1500.7 L1265.0,1504.2 L1271.0,1506.5 L1292.0,1518.5 L1299.0,1521.9 L1303.0,1523.2 L1306.0,1523.6 L1309.0,1523.6 L1313.0,1522.6 L1321.0,1518.7 L1334.0,1509.2 L1337.0,1507.7 L1340.0,1506.8 L1343.0,1506.6 L1347.0,1507.1 L1350.0,1508.1 L1354.0,1510.2 L1360.0,1514.8 L1367.0,1522.3 L1389.0,1553.1 L1396.0,1562.2 L1402.0,1569.1 L1407.0,1574.0 L1422.0,1587.1 L1440.0,1605.2 L1448.0,1611.8 L1454.0,1615.4 L1458.0,1616.7 L1463.0,1616.6 L1481.0,1610.8 L1487.0,1610.0 L1492.0,1610.5 L1498.0,1611.6 L1512.0,1615.7 L1518.0,1618.2 L1524.0,1621.5 L1545.0,1635.9 L1562.0,1644.3 L1568.0,1648.7 L1580.0,1660.0 L1586.0,1664.7 L1591.0,1667.6 L1605.0,1674.1 L1614.0,1679.3 L1626.0,1686.8 L1643.0,1698.7 L1655.0,1706.6 L1662.0,1710.7 L1669.0,1714.0 L1677.0,1717.0 L1704.0,1725.6 L1717.0,1728.9 L1729.0,1730.7 L1754.0,1733.5 L1777.0,1735.1 L1787.0,1737.0 L1793.0,1739.2 L1798.0,1741.9 L1817.0,1755.2 L1823.0,1758.9 L1829.0,1761.6 L1835.0,1763.4 L1848.0,1765.4 L1897.0,1768.9 L1915.0,1771.8 L1926.0,1774.5 L1935.0,1778.0 L1944.0,1783.4 L1955.0,1792.1 L1972.0,1807.4 L1976.0,1810.1" stroke="#68a018" stroke-width="9.0" stroke-linecap="butt"/>
<path d="M243.0,1585.1 L350.0,1584.3 L417.0,1583.1 L493.0,1580.4 L577.0,1576.3 L640.0,1572.1 L775.0,1560.1 L814.0,1556.2 L842.0,1552.2 L908.0,1539.8 L933.0,1534.4 L963.0,1526.5 L976.0,1522.4 L988.0,1518.0 L1002.0,1512.3 L1016.0,1506.0 L1031.0,1498.5 L1045.0,1491.0 L1060.0,1481.6 L1101.0,1452.4 L1109.0,1447.8 L1137.0,1433.1 L1146.0,1429.1 L1154.0,1426.8 L1163.0,1425.4 L1171.0,1425.5 L1175.0,1426.4 L1180.0,1428.6 L1186.0,1432.5 L1193.0,1437.8 L1208.0,1450.7 L1230.0,1472.8 L1237.0,1478.8 L1243.0,1483.2 L1251.0,1488.1 L1271.0,1497.0 L1290.0,1507.7 L1297.0,1511.2 L1301.0,1512.6 L1305.0,1513.4 L1308.0,1513.4 L1311.0,1512.7 L1317.0,1510.0 L1325.0,1504.4 L1329.0,1502.0 L1334.0,1500.2 L1339.0,1499.1 L1344.0,1498.9 L1348.0,1499.4 L1353.0,1501.0 L1357.0,1503.2 L1361.0,1506.1 L1366.0,1510.6 L1374.0,1520.0 L1379.0,1527.4 L1391.0,1548.1 L1395.0,1553.8 L1399.0,1558.6 L1436.0,1595.1 L1445.0,1602.7 L1451.0,1606.5 L1455.0,1607.7 L1460.0,1607.7 L1471.0,1604.6 L1482.0,1600.8 L1488.0,1599.8 L1496.0,1600.8 L1512.0,1605.5 L1517.0,1607.7 L1523.0,1611.1 L1544.0,1625.2 L1561.0,1636.0 L1568.0,1642.2 L1581.0,1656.3 L1587.0,1661.3 L1592.0,1664.2 L1605.0,1670.2 L1615.0,1675.8 L1627.0,1683.4 L1652.0,1700.5 L1661.0,1706.0 L1668.0,1709.6 L1673.0,1711.5 L1678.0,1712.8 L1698.0,1716.0 L1702.0,1717.3 L1714.0,1722.3 L1726.0,1725.2 L1745.0,1728.0 L1779.0,1730.4 L1788.0,1731.8 L1794.0,1734.2 L1800.0,1737.5 L1826.0,1755.6 L1832.0,1758.5 L1839.0,1760.7 L1846.0,1762.0 L1853.0,1762.8 L1889.0,1764.7 L1900.0,1765.7 L1917.0,1768.3 L1930.0,1771.6 L1936.0,1773.9 L1941.0,1776.4 L1946.0,1779.5 L1950.0,1782.6 L1957.0,1789.5 L1973.0,1807.3 L1976.0,1809.8" stroke="#8000ff" stroke-width="9.0" stroke-linecap="butt"/>
<path d="M243.0,1527.2 L368.0,1526.0 L447.0,1523.9 L521.0,1520.4 L595.0,1514.7 L676.0,1507.0 L711.0,1502.9 L741.0,1498.7 L768.0,1494.2 L797.0,1488.7 L831.0,1481.5 L867.0,1473.3 L898.0,1465.0 L925.0,1455.7 L945.0,1447.8 L975.0,1435.1 L988.0,1429.2 L999.0,1423.4 L1011.0,1416.2 L1023.0,1407.5 L1037.0,1396.0 L1056.0,1378.6 L1063.0,1372.6 L1090.0,1352.2 L1118.0,1329.8 L1140.0,1313.4 L1149.0,1307.5 L1156.0,1304.0 L1161.0,1303.1 L1169.0,1303.4 L1173.0,1304.4 L1176.0,1305.9 L1179.0,1308.1 L1182.0,1311.1 L1186.0,1316.5 L1197.0,1333.7 L1203.0,1341.7 L1226.0,1367.8 L1241.0,1387.8 L1246.0,1392.6 L1252.0,1396.6 L1260.0,1400.3 L1270.0,1403.7 L1286.0,1408.0 L1296.0,1409.8 L1304.0,1410.2 L1312.0,1409.6 L1317.0,1408.5 L1331.0,1404.0 L1338.0,1403.1 L1344.0,1403.5 L1350.0,1404.7 L1355.0,1406.8 L1359.0,1409.5 L1362.0,1412.7 L1365.0,1417.1 L1376.0,1438.1 L1395.0,1466.4 L1413.0,1497.6 L1427.0,1520.8 L1438.0,1536.2 L1442.0,1540.6 L1445.0,1543.0 L1449.0,1544.5 L1454.0,1544.5 L1460.0,1542.8 L1475.0,1536.9 L1480.0,1535.8 L1484.0,1535.6 L1489.0,1536.5 L1505.0,1541.4 L1515.0,1544.8 L1523.0,1548.2 L1529.0,1551.4 L1534.0,1554.7 L1540.0,1559.6 L1546.0,1565.3 L1558.0,1578.4 L1574.0,1599.3 L1578.0,1603.9 L1582.0,1607.8 L1588.0,1612.2 L1603.0,1620.9 L1609.0,1625.1 L1616.0,1631.5 L1630.0,1646.1 L1638.0,1653.2 L1656.0,1667.2 L1664.0,1672.6 L1671.0,1676.7 L1682.0,1682.0 L1711.0,1693.9 L1721.0,1697.7 L1729.0,1700.2 L1740.0,1702.3 L1760.0,1703.2 L1768.0,1704.1 L1784.0,1707.0 L1795.0,1710.2 L1802.0,1713.5 L1807.0,1717.1 L1821.0,1731.2 L1827.0,1736.3 L1832.0,1739.2 L1839.0,1742.0 L1848.0,1744.3 L1868.0,1748.1 L1894.0,1751.8 L1917.0,1755.8 L1925.0,1757.5 L1932.0,1759.8 L1938.0,1762.6 L1944.0,1766.6 L1964.0,1783.7 L1972.0,1789.9 L1976.0,1792.2" stroke="#cc9900" stroke-width="9.0" stroke-dasharray="12.5 24.5" stroke-linecap="round"/>
</g>
<g clip-path="url(#clipd)" fill="none" stroke-linejoin="round">
<path d="M243.0,2450.6 L1046.0,2450.6 L1070.0,2450.4 L1081.0,2449.3 L1089.0,2447.4 L1099.0,2443.2 L1111.0,2437.1 L1122.0,2430.5 L1137.0,2419.7 L1148.0,2409.2 L1153.0,2405.2 L1159.0,2401.6 L1176.0,2392.8 L1184.0,2387.5 L1189.0,2383.1 L1203.0,2368.5 L1212.0,2360.6 L1218.0,2355.9 L1229.0,2349.2 L1248.0,2340.4 L1263.0,2335.1 L1268.0,2333.9 L1273.0,2333.5 L1278.0,2334.3 L1288.0,2338.2 L1293.0,2339.4 L1298.0,2339.6 L1311.0,2338.2 L1316.0,2338.2 L1321.0,2339.3 L1330.0,2343.0 L1334.0,2343.7 L1338.0,2343.3 L1342.0,2341.7 L1347.0,2337.6 L1352.0,2331.1 L1367.0,2304.7 L1373.0,2295.9 L1380.0,2288.3 L1385.0,2284.1 L1388.0,2282.3 L1391.0,2281.9 L1394.0,2282.8 L1411.0,2291.9 L1417.0,2294.2 L1422.0,2294.6 L1432.0,2292.5 L1437.0,2292.8 L1443.0,2294.8 L1458.0,2301.8 L1467.0,2305.2 L1479.0,2308.7 L1486.0,2309.3 L1489.0,2308.8 L1492.0,2307.6 L1497.0,2303.8 L1507.0,2292.5 L1518.0,2278.0 L1522.0,2274.0 L1525.0,2272.0 L1528.0,2270.5 L1531.0,2269.7 L1534.0,2269.3 L1540.0,2270.0 L1547.0,2273.1 L1558.0,2280.5 L1568.0,2289.4 L1573.0,2291.9 L1577.0,2292.7 L1581.0,2292.9 L1604.0,2291.3 L1609.0,2291.5 L1613.0,2292.0 L1620.0,2294.1 L1653.0,2308.3 L1663.0,2311.1 L1673.0,2312.8 L1681.0,2313.3 L1684.0,2312.9 L1687.0,2312.0 L1695.0,2307.5 L1707.0,2298.8 L1713.0,2295.0 L1718.0,2293.1 L1721.0,2292.9 L1723.0,2293.1 L1728.0,2295.3 L1737.0,2301.8 L1742.0,2304.6 L1748.0,2306.5 L1766.0,2310.1 L1774.0,2312.4 L1781.0,2315.6 L1798.0,2324.9 L1804.0,2327.5 L1810.0,2329.4 L1828.0,2333.5 L1848.0,2336.4 L1859.0,2337.1 L1884.0,2337.2 L1904.0,2338.1 L1917.0,2339.1 L1926.0,2340.5 L1935.0,2343.1 L1944.0,2347.1 L1956.0,2353.5 L1972.0,2363.4 L1976.0,2365.4" stroke="#000000" stroke-width="9.0" stroke-linecap="butt"/>
<path d="M243.0,2450.6 L702.0,2450.9 L946.0,2450.6 L1008.0,2450.1 L1012.0,2449.6 L1018.0,2448.1 L1025.0,2448.3 L1028.0,2447.6 L1034.0,2445.2 L1047.0,2442.6 L1057.0,2440.0 L1075.0,2434.0 L1087.0,2429.0 L1099.0,2423.4 L1109.0,2418.0 L1117.0,2413.0 L1131.0,2402.2 L1142.0,2392.7 L1152.0,2383.4 L1189.0,2346.8 L1211.0,2321.5 L1215.0,2317.9 L1219.0,2315.4 L1223.0,2313.9 L1237.0,2311.0 L1261.0,2303.2 L1273.0,2298.9 L1286.0,2292.6 L1291.0,2291.0 L1294.0,2290.6 L1298.0,2290.6 L1313.0,2293.2 L1318.0,2293.5 L1325.0,2292.4 L1331.0,2289.6 L1337.0,2284.8 L1343.0,2278.6 L1385.0,2225.6 L1390.0,2220.2 L1392.0,2218.6 L1394.0,2217.7 L1398.0,2217.4 L1404.0,2217.8 L1412.0,2219.1 L1419.0,2220.8 L1427.0,2223.6 L1442.0,2230.7 L1449.0,2232.8 L1456.0,2233.2 L1469.0,2231.3 L1474.0,2231.1 L1478.0,2231.7 L1487.0,2234.2 L1491.0,2234.1 L1494.0,2232.8 L1498.0,2229.4 L1507.0,2218.1 L1519.0,2204.0 L1527.0,2196.0 L1531.0,2193.3 L1535.0,2191.5 L1540.0,2190.4 L1545.0,2190.1 L1554.0,2190.9 L1563.0,2192.8 L1569.0,2195.3 L1583.0,2202.9 L1586.0,2204.0 L1589.0,2204.5 L1594.0,2203.8 L1605.0,2198.2 L1612.0,2196.1 L1620.0,2195.1 L1628.0,2194.6 L1635.0,2194.8 L1641.0,2195.5 L1647.0,2196.9 L1655.0,2199.6 L1671.0,2206.4 L1680.0,2210.9 L1698.0,2217.2 L1712.0,2220.6 L1723.0,2222.3 L1731.0,2223.2 L1741.0,2223.2 L1749.0,2221.7 L1756.0,2218.7 L1769.0,2210.7 L1774.0,2208.3 L1780.0,2206.8 L1786.0,2207.0 L1793.0,2208.7 L1807.0,2213.9 L1831.0,2225.4 L1842.0,2229.8 L1856.0,2234.2 L1866.0,2235.9 L1872.0,2235.9 L1878.0,2235.1 L1922.0,2224.7 L1938.0,2221.8 L1945.0,2221.4 L1952.0,2221.6 L1976.0,2224.5" stroke="#ff0000" stroke-width="9.0" stroke-linecap="butt"/>
<path d="M243.0,2450.6 L702.0,2450.9 L946.0,2450.6 L1008.0,2449.9 L1011.0,2449.6 L1018.0,2447.3 L1025.0,2447.6 L1028.0,2446.7 L1034.0,2443.9 L1048.0,2440.7 L1060.0,2437.2 L1079.0,2430.1 L1091.0,2424.7 L1103.0,2418.5 L1113.0,2412.5 L1121.0,2406.9 L1128.0,2401.2 L1135.0,2394.7 L1148.0,2380.8 L1168.0,2355.8 L1187.0,2329.6 L1195.0,2319.8 L1207.0,2307.8 L1212.0,2303.7 L1217.0,2300.4 L1223.0,2297.3 L1229.0,2295.3 L1257.0,2290.5 L1287.0,2281.5 L1316.0,2274.7 L1327.0,2270.9 L1333.0,2267.8 L1338.0,2263.4 L1343.0,2257.1 L1361.0,2227.1 L1370.0,2214.6 L1378.0,2205.2 L1385.0,2198.0 L1391.0,2192.8 L1395.0,2190.7 L1399.0,2190.2 L1404.0,2190.9 L1425.0,2198.2 L1435.0,2200.7 L1445.0,2202.7 L1456.0,2203.8 L1469.0,2202.8 L1474.0,2202.9 L1478.0,2203.6 L1488.0,2206.7 L1491.0,2207.1 L1493.0,2206.9 L1496.0,2205.7 L1499.0,2203.0 L1511.0,2186.3 L1520.0,2176.1 L1527.0,2169.7 L1533.0,2165.8 L1541.0,2162.1 L1548.0,2160.0 L1555.0,2159.1 L1559.0,2159.2 L1563.0,2160.1 L1579.0,2166.9 L1583.0,2167.9 L1586.0,2168.1 L1592.0,2167.2 L1607.0,2161.8 L1619.0,2159.0 L1628.0,2157.7 L1636.0,2158.1 L1646.0,2160.7 L1659.0,2166.0 L1665.0,2169.0 L1675.0,2175.4 L1680.0,2177.9 L1687.0,2179.8 L1695.0,2180.7 L1705.0,2180.5 L1724.0,2178.2 L1732.0,2177.8 L1740.0,2178.2 L1759.0,2180.5 L1768.0,2180.6 L1774.0,2179.8 L1785.0,2177.5 L1803.0,2173.0 L1807.0,2172.5 L1811.0,2172.5 L1814.0,2173.1 L1818.0,2174.4 L1834.0,2182.7 L1854.0,2190.7 L1865.0,2194.1 L1873.0,2195.3 L1877.0,2195.1 L1881.0,2194.3 L1894.0,2189.7 L1900.0,2188.0 L1922.0,2184.6 L1931.0,2182.7 L1939.0,2180.2 L1955.0,2174.4 L1961.0,2172.7 L1968.0,2172.1 L1976.0,2173.3" stroke="#0000ff" stroke-width="9.0" stroke-linecap="butt"/>
<path d="M243.0,2450.6 L702.0,2451.0 L947.0,2450.6 L1008.0,2449.8 L1011.0,2449.3 L1018.0,2446.5 L1024.0,2447.0 L1026.0,2446.8 L1034.0,2443.0 L1046.0,2440.4 L1055.0,2438.0 L1064.0,2434.8 L1073.0,2431.0 L1092.0,2420.9 L1121.0,2403.8 L1127.0,2399.6 L1135.0,2392.1 L1144.0,2381.1 L1155.0,2365.5 L1180.0,2328.2 L1191.0,2313.6 L1196.0,2308.0 L1200.0,2304.4 L1209.0,2297.6 L1217.0,2292.2 L1230.0,2284.7 L1253.0,2273.2 L1268.0,2266.3 L1279.0,2262.2 L1286.0,2260.4 L1293.0,2259.7 L1299.0,2259.9 L1311.0,2261.1 L1316.0,2261.1 L1321.0,2260.0 L1325.0,2257.8 L1327.0,2256.0 L1330.0,2252.4 L1338.0,2240.3 L1365.0,2193.4 L1371.0,2183.9 L1375.0,2179.0 L1379.0,2175.3 L1384.0,2172.3 L1389.0,2170.3 L1414.0,2162.3 L1420.0,2161.2 L1426.0,2161.3 L1434.0,2163.0 L1443.0,2166.5 L1448.0,2169.3 L1459.0,2176.7 L1464.0,2179.3 L1469.0,2180.5 L1473.0,2180.1 L1478.0,2178.0 L1483.0,2174.6 L1500.0,2160.9 L1520.0,2143.4 L1531.0,2135.6 L1541.0,2130.3 L1552.0,2125.8 L1563.0,2122.4 L1572.0,2120.8 L1578.0,2120.8 L1592.0,2122.2 L1599.0,2122.2 L1607.0,2121.3 L1629.0,2117.5 L1636.0,2117.0 L1641.0,2117.3 L1646.0,2118.4 L1651.0,2120.2 L1669.0,2130.1 L1676.0,2132.8 L1691.0,2135.1 L1724.0,2142.1 L1734.0,2143.3 L1746.0,2144.1 L1758.0,2143.7 L1769.0,2141.8 L1779.0,2138.6 L1805.0,2128.2 L1811.0,2126.7 L1816.0,2126.5 L1820.0,2127.5 L1823.0,2129.0 L1835.0,2136.8 L1846.0,2144.7 L1852.0,2147.7 L1855.0,2148.3 L1858.0,2148.2 L1868.0,2145.0 L1872.0,2144.6 L1877.0,2145.5 L1888.0,2149.5 L1894.0,2150.5 L1900.0,2149.7 L1908.0,2146.9 L1943.0,2129.7 L1949.0,2127.3 L1954.0,2126.1 L1959.0,2125.6 L1976.0,2125.5" stroke="#68a018" stroke-width="9.0" stroke-linecap="butt"/>
<path d="M243.0,2450.6 L757.0,2448.9 L938.0,2447.5 L971.0,2446.8 L996.0,2445.6 L1013.0,2443.0 L1034.0,2440.8 L1044.0,2439.3 L1053.0,2437.0 L1065.0,2432.8 L1075.0,2428.4 L1085.0,2423.3 L1099.0,2415.3 L1113.0,2406.4 L1122.0,2399.9 L1131.0,2392.4 L1138.0,2385.7 L1145.0,2378.3 L1151.0,2371.1 L1157.0,2363.1 L1166.0,2349.2 L1182.0,2320.2 L1189.0,2310.2 L1197.0,2301.8 L1218.0,2282.8 L1225.0,2277.3 L1229.0,2274.9 L1232.0,2273.7 L1244.0,2270.9 L1249.0,2269.2 L1272.0,2258.9 L1282.0,2255.4 L1287.0,2254.4 L1292.0,2253.9 L1309.0,2254.4 L1315.0,2254.1 L1321.0,2252.5 L1325.0,2250.0 L1329.0,2245.5 L1336.0,2234.3 L1355.0,2198.9 L1365.0,2181.2 L1370.0,2173.3 L1375.0,2167.0 L1379.0,2163.4 L1384.0,2160.3 L1389.0,2158.2 L1413.0,2151.3 L1420.0,2150.6 L1426.0,2151.1 L1434.0,2153.2 L1443.0,2157.1 L1448.0,2160.2 L1458.0,2167.6 L1463.0,2170.5 L1468.0,2172.0 L1472.0,2171.6 L1475.0,2170.4 L1479.0,2167.6 L1496.0,2151.6 L1516.0,2134.9 L1527.0,2127.1 L1540.0,2120.3 L1558.0,2112.8 L1570.0,2108.4 L1578.0,2106.9 L1583.0,2106.8 L1594.0,2108.4 L1599.0,2108.7 L1604.0,2108.1 L1615.0,2105.5 L1621.0,2104.5 L1633.0,2103.6 L1641.0,2104.0 L1646.0,2105.0 L1650.0,2106.4 L1666.0,2114.6 L1674.0,2117.4 L1681.0,2118.6 L1701.0,2120.4 L1718.0,2124.7 L1738.0,2128.7 L1751.0,2130.9 L1760.0,2131.6 L1765.0,2131.4 L1770.0,2130.0 L1773.0,2128.5 L1783.0,2122.1 L1798.0,2116.1 L1807.0,2113.6 L1814.0,2113.1 L1819.0,2114.1 L1825.0,2116.5 L1833.0,2120.8 L1845.0,2128.8 L1849.0,2130.8 L1852.0,2131.7 L1860.0,2132.8 L1878.0,2132.9 L1890.0,2135.0 L1894.0,2135.3 L1901.0,2134.3 L1910.0,2131.0 L1932.0,2120.5 L1945.0,2113.5 L1950.0,2111.5 L1959.0,2109.7 L1976.0,2108.8" stroke="#8000ff" stroke-width="9.0" stroke-linecap="butt"/>
<path d="M243.0,2450.6 L724.0,2447.8 L897.0,2446.5 L906.0,2445.6 L913.0,2445.6 L921.0,2444.7 L976.0,2442.8 L1002.0,2441.2 L1013.0,2440.1 L1029.0,2437.8 L1037.0,2436.3 L1044.0,2434.6 L1053.0,2431.2 L1062.0,2426.2 L1072.0,2419.2 L1091.0,2404.9 L1103.0,2394.9 L1115.0,2383.7 L1126.0,2372.7 L1134.0,2363.6 L1139.0,2356.9 L1143.0,2350.7 L1154.0,2330.1 L1163.0,2310.8 L1180.0,2271.0 L1186.0,2258.9 L1192.0,2248.9 L1199.0,2238.9 L1206.0,2230.3 L1213.0,2223.0 L1218.0,2218.5 L1223.0,2214.6 L1229.0,2210.9 L1234.0,2208.4 L1242.0,2205.8 L1260.0,2202.2 L1267.0,2200.3 L1278.0,2196.1 L1289.0,2190.8 L1299.0,2185.1 L1308.0,2178.9 L1317.0,2171.6 L1324.0,2164.8 L1329.0,2158.6 L1333.0,2152.0 L1345.0,2125.4 L1369.0,2078.3 L1373.0,2071.2 L1379.0,2062.9 L1386.0,2055.5 L1393.0,2049.4 L1400.0,2044.7 L1406.0,2042.2 L1412.0,2041.2 L1419.0,2041.6 L1428.0,2043.7 L1435.0,2046.3 L1440.0,2049.0 L1444.0,2052.2 L1453.0,2061.3 L1457.0,2064.3 L1461.0,2065.5 L1465.0,2065.0 L1468.0,2063.7 L1472.0,2061.1 L1488.0,2047.7 L1507.0,2034.9 L1515.0,2028.7 L1523.0,2020.5 L1536.0,2003.7 L1542.0,1996.9 L1553.0,1987.0 L1564.0,1979.0 L1572.0,1974.7 L1579.0,1972.3 L1586.0,1971.0 L1601.0,1969.6 L1607.0,1968.7 L1631.0,1962.2 L1639.0,1961.6 L1646.0,1962.9 L1653.0,1966.0 L1669.0,1974.7 L1677.0,1977.4 L1685.0,1978.3 L1701.0,1978.2 L1709.0,1979.4 L1717.0,1982.8 L1730.0,1990.6 L1736.0,1993.7 L1742.0,1995.5 L1748.0,1995.9 L1754.0,1995.1 L1760.0,1993.6 L1767.0,1991.0 L1777.0,1986.6 L1785.0,1982.1 L1802.0,1969.4 L1807.0,1966.9 L1811.0,1966.0 L1815.0,1966.2 L1820.0,1967.7 L1834.0,1975.3 L1841.0,1978.3 L1853.0,1981.8 L1864.0,1984.5 L1874.0,1986.2 L1884.0,1986.8 L1894.0,1986.5 L1903.0,1985.2 L1911.0,1982.6 L1917.0,1979.4 L1922.0,1975.5 L1934.0,1964.8 L1943.0,1958.8 L1958.0,1951.6 L1972.0,1945.7 L1976.0,1944.4" stroke="#cc9900" stroke-width="9.0" stroke-dasharray="12.5 24.5" stroke-linecap="round"/>
</g>
<g font-family="Liberation Serif, Times New Roman, serif" font-weight="bold" font-size="62" fill="#000" text-anchor="end">
<text x="217.4" y="116.8">12</text>
<text x="217.4" y="248.0">8</text>
<text x="217.4" y="379.1">4</text>
<text x="217.4" y="510.3">0</text>
<text x="217.4" y="641.5">-4</text>
<text x="217.4" y="744.8">12</text>
<text x="217.4" y="917.2">8</text>
<text x="217.4" y="1089.6">4</text>
<text x="217.4" y="1410.0">3.0</text>
<text x="217.4" y="1636.6">1.5</text>
<text x="217.4" y="1863.2">0.0</text>
<text x="217.4" y="1965.0">20</text>
<text x="217.4" y="2091.0">15</text>
<text x="217.4" y="2217.1">10</text>
<text x="217.4" y="2343.1">5</text>
<text x="217.4" y="2469.2">0</text>
</g>
<g font-family="Liberation Serif, Times New Roman, serif" font-weight="bold" font-size="62" fill="#000" text-anchor="middle">
<text x="243.2" y="2524.4">0</text>
<text x="416.5" y="2524.4">1</text>
<text x="589.8" y="2524.4">2</text>
<text x="763.1" y="2524.4">3</text>
<text x="936.4" y="2524.4">4</text>
<text x="1109.7" y="2524.4">5</text>
<text x="1283.0" y="2524.4">6</text>
<text x="1456.3" y="2524.4">7</text>
<text x="1629.6" y="2524.4">8</text>
<text x="1802.9" y="2524.4">9</text>
<text x="1976.2" y="2524.4">10</text>
</g>
<g font-family="Liberation Serif, Times New Roman, serif" font-weight="bold" font-size="66" fill="#000">
<text x="287.3" y="106.2" letter-spacing="2.5">(a)</text>
<text x="287.3" y="711.0" letter-spacing="2.5">(b)</text>
<text x="287.3" y="1314.5" letter-spacing="2.5">(c)</text>
<text x="287.3" y="1917.5" letter-spacing="2.5">(d)</text>
</g>
<text font-family="Liberation Serif, Times New Roman, serif" font-weight="bold" font-size="73" x="1109.0" y="2612.1" text-anchor="middle" letter-spacing="0.9">Energy (eV)</text>
<text font-family="Liberation Serif, Times New Roman, serif" font-weight="bold" font-size="73" transform="translate(90.7,345.9) rotate(-90)">ε<tspan font-weight="normal" font-size="50" dy="21">1</tspan></text>
<text font-family="Liberation Serif, Times New Roman, serif" font-weight="bold" font-size="73" transform="translate(96.1,950.6) rotate(-90)">ε<tspan font-weight="normal" font-size="50" dy="20">2</tspan></text>
<text font-family="Liberation Serif, Times New Roman, serif" font-weight="bold" font-size="73" transform="translate(72,1545) rotate(-90)">n</text>
<text font-family="Liberation Serif, Times New Roman, serif" font-weight="bold" font-size="73" transform="translate(89,2331) rotate(-90)"><tspan x="0" y="0">α</tspan><tspan x="47.4" y="0">/</tspan><tspan x="80.2" y="0">1</tspan><tspan x="119.4" y="0">0</tspan><tspan x="152.7" y="-32" font-weight="normal" font-size="50">5</tspan><tspan x="198.3" y="0">(</tspan><tspan x="223" y="0">c</tspan><tspan x="259" y="0">m</tspan><tspan x="318.6" y="-32" font-weight="normal" font-size="50">-</tspan><tspan x="336" y="-32" font-weight="normal" font-size="50">1</tspan><tspan x="361" y="0">)</tspan></text>
<g fill="none" stroke-width="9" stroke-linecap="round">
<line x1="1632.4" y1="94.8" x2="1733.4" y2="94.8" stroke="#000000"/>
<line x1="1632.4" y1="158.9" x2="1733.4" y2="158.9" stroke="#ff0000"/>
<line x1="1632.4" y1="223.0" x2="1733.4" y2="223.0" stroke="#0000ff"/>
<line x1="1632.4" y1="287.0" x2="1733.4" y2="287.0" stroke="#68a018"/>
<line x1="1632.4" y1="351.1" x2="1733.4" y2="351.1" stroke="#8000ff"/>
<line x1="1632.4" y1="415.2" x2="1740" y2="415.2" stroke="#cc9900" stroke-dasharray="12.5 24.5"/>
</g>
<g font-family="Liberation Serif, Times New Roman, serif" font-weight="bold" font-size="52" fill="#000">
<text x="1758" y="113.1">1L</text>
<text x="1758" y="177.2">2L</text>
<text x="1758" y="241.3">3L</text>
<text x="1758" y="305.3">4L</text>
<text x="1758" y="369.4">5L</text>
<text x="1758" y="433.5">Bulk</text>
</g>
</svg></body></html>
